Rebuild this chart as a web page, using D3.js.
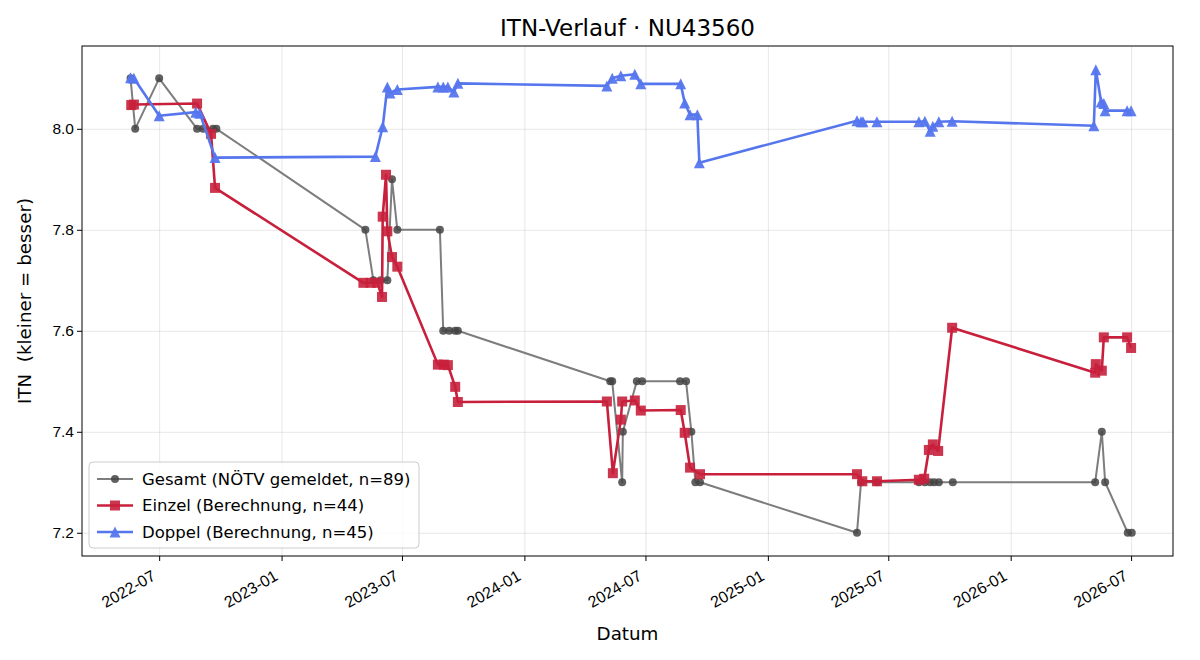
<!doctype html>
<meta charset="utf-8">
<style>
body { margin: 0; background: #fff; }
svg { font-family: "DejaVu Sans", sans-serif; }
.grid line { stroke: #b0b0b0; stroke-opacity: 0.3; }
.grid .domain { display: none; }
.axis .domain { display: none; }
.axis line { stroke: #000; }
</style>
<html lang="de">
<head></head>
<body>
<script src="https://d3js.org/d3.v7.min.js"></script>
<script>
// Gesamt (NÖTV gemeldet)
var gesamtDates = ["2022-05-19","2022-05-26","2022-07-01","2022-08-27","2022-09-05","2022-09-20","2022-09-25",
  "2023-05-07","2023-05-19","2023-05-30","2023-06-09","2023-06-16","2023-06-24",
  "2023-08-27","2023-09-01","2023-09-10","2023-09-19","2023-09-23",
  "2024-05-09","2024-05-12","2024-05-27","2024-05-28","2024-06-18","2024-06-26",
  "2024-08-22","2024-08-31","2024-09-08","2024-09-14","2024-09-21",
  "2025-05-15","2025-05-21","2025-06-14",
  "2025-08-16","2025-08-25","2025-09-02","2025-09-08","2025-09-15","2025-10-06",
  "2026-05-08","2026-05-18","2026-05-23","2026-06-26","2026-07-02"];
var gesamtValues = [8.1,8.0,8.1,8.0,8.0,8.0,8.0,
  7.8,7.7,7.7,7.7,7.9,7.8,
  7.8,7.6,7.6,7.6,7.6,
  7.5,7.5,7.3,7.4,7.5,7.5,
  7.5,7.5,7.4,7.3,7.3,
  7.2,7.3,7.3,
  7.3,7.3,7.3,7.3,7.3,7.3,
  7.3,7.4,7.3,7.2,7.2];

// Einzel (Berechnung)
var einzelDates = ["2022-05-20","2022-05-24","2022-08-27","2022-09-17","2022-09-23",
  "2023-05-04","2023-05-15","2023-05-25","2023-06-01","2023-06-02","2023-06-07","2023-06-09","2023-06-16","2023-06-24",
  "2023-08-24","2023-09-02","2023-09-08","2023-09-19","2023-09-23",
  "2024-05-04","2024-05-13","2024-05-25","2024-05-27","2024-06-15","2024-06-24",
  "2024-08-23","2024-08-29","2024-09-06","2024-09-21",
  "2025-05-15","2025-05-23","2025-06-14",
  "2025-08-16","2025-08-24","2025-08-31","2025-09-06","2025-09-14","2025-10-05",
  "2026-05-08","2026-05-09","2026-05-18","2026-05-21","2026-06-25","2026-07-01"];
var einzelValues = [8.047,8.048,8.05,7.99,7.883,
  7.695,7.695,7.695,7.667,7.826,7.909,7.797,7.746,7.727,
  7.533,7.533,7.532,7.489,7.459,
  7.46,7.318,7.424,7.46,7.462,7.442,
  7.443,7.398,7.329,7.316,
  7.316,7.302,7.302,
  7.305,7.307,7.364,7.375,7.362,7.606,
  7.517,7.534,7.521,7.587,7.587,7.566];

// Doppel (Berechnung)
var doppelDates = ["2022-05-19","2022-05-24","2022-07-01","2022-08-25","2022-08-31","2022-09-23",
  "2023-05-22","2023-06-02","2023-06-09","2023-06-13","2023-06-24",
  "2023-08-24","2023-09-01","2023-09-08","2023-09-17","2023-09-23",
  "2024-05-04","2024-05-12","2024-05-25","2024-06-15","2024-06-24",
  "2024-08-23","2024-08-29","2024-09-06","2024-09-17","2024-09-20",
  "2025-05-15","2025-05-21","2025-05-24","2025-06-14",
  "2025-08-16","2025-08-25","2025-09-02","2025-09-06","2025-09-15","2025-10-05",
  "2026-05-06","2026-05-09","2026-05-17","2026-05-21","2026-05-23","2026-06-25","2026-07-01"];
var doppelValues = [8.101,8.1,8.026,8.033,8.031,7.943,
  7.945,8.004,8.083,8.071,8.078,
  8.083,8.083,8.083,8.073,8.09,
  8.085,8.1,8.105,8.108,8.089,
  8.089,8.051,8.028,8.028,7.933,
  8.016,8.014,8.014,8.014,
  8.014,8.015,7.995,8.005,8.014,8.015,
  8.006,8.117,8.053,8.05,8.036,8.036,8.036];

var yTicks = [7.2, 7.4, 7.6, 7.8, 8.0];
var xDomain = ["2022-03-07", "2026-09-02"];
var yDomain = [7.154, 8.164];

var parse = d3.timeParse("%Y-%m-%d");
function zip(dates, values) {
  return dates.map(function(d, i) { return {date: parse(d), value: values[i]}; });
}

var series = [
  {name: "Gesamt (NÖTV gemeldet, n=89)", data: zip(gesamtDates, gesamtValues),
   line: "#7d7d7d", lw: 2, mark: "#444", shape: "circle", size: 4, fillOp: 0.85},
  {name: "Einzel (Berechnung, n=44)", data: zip(einzelDates, einzelValues),
   line: "#c8203c", lw: 2.6, mark: "#c8203c", shape: "square", size: 10, fillOp: 0.9},
  {name: "Doppel (Berechnung, n=45)", data: zip(doppelDates, doppelValues),
   line: "#5676ee", lw: 2.6, mark: "#5676ee", shape: "triangle", size: 11, fillOp: 0.95}
];

var margin = {top: 46, right: 27, bottom: 104, left: 82},
    width = 1200 - margin.left - margin.right,
    height = 660 - margin.top - margin.bottom;

var svg = d3.select("body").append("svg")
    .attr("width", 1200)
    .attr("height", 660);

var g = svg.append("g")
    .attr("transform", "translate(" + margin.left + "," + margin.top + ")");

var x = d3.scaleTime().domain(xDomain.map(parse)).range([0, width]);
var y = d3.scaleLinear().domain(yDomain).range([height, 0]);
var xTicks = x.ticks(d3.timeMonth.every(6));

// grid
g.append("g").attr("class", "grid")
    .attr("transform", "translate(0," + height + ")")
    .call(d3.axisBottom(x).tickValues(xTicks).tickSize(-height).tickFormat(""));
g.append("g").attr("class", "grid")
    .call(d3.axisLeft(y).tickValues(yTicks).tickSize(-width).tickFormat(""));

var line = d3.line()
    .x(function(d) { return x(d.date); })
    .y(function(d) { return y(d.value); });

function drawMarker(sel, s) {
  if (s.shape === "circle") {
    sel.append("circle").attr("r", s.size);
  } else if (s.shape === "square") {
    sel.append("rect").attr("x", -s.size / 2).attr("y", -s.size / 2)
      .attr("width", s.size).attr("height", s.size);
  } else {
    var h = s.size * 0.5;
    sel.append("path").attr("d", "M0," + (-h) + "L" + h + "," + h + "L" + (-h) + "," + h + "Z");
  }
}

series.forEach(function(s) {
  g.append("path")
      .datum(s.data)
      .attr("fill", "none")
      .attr("stroke", s.line)
      .attr("stroke-width", s.lw)
      .attr("stroke-linejoin", "round")
      .attr("d", line);

  g.append("g").selectAll("g")
      .data(s.data)
    .enter().append("g")
      .attr("transform", function(d) { return "translate(" + x(d.date) + "," + y(d.value) + ")"; })
      .attr("fill", s.mark)
      .attr("fill-opacity", s.fillOp)
      .each(function() { drawMarker(d3.select(this), s); });
});

// axes
var xAxis = g.append("g").attr("class", "axis")
    .attr("transform", "translate(0," + height + ")")
    .call(d3.axisBottom(x).tickValues(xTicks).tickSize(5).tickSizeOuter(0).tickFormat(d3.timeFormat("%Y-%m")));
xAxis.selectAll("text")
    .attr("font-size", 16)
    .attr("fill", "#000")
    .attr("text-anchor", "end")
    .attr("x", 0).attr("y", 0).attr("dx", 0).attr("dy", 0)
    .attr("transform", "translate(-3,23) rotate(-30)");

var yAxis = g.append("g").attr("class", "axis")
    .call(d3.axisLeft(y).tickValues(yTicks).tickSize(5).tickSizeOuter(0).tickFormat(d3.format(".1f")));
yAxis.selectAll("text")
    .attr("font-size", 15.5)
    .attr("fill", "#000");

// frame
g.append("rect")
    .attr("width", width).attr("height", height)
    .attr("fill", "none").attr("stroke", "#000").attr("stroke-width", 1);

// labels
svg.append("text")
    .attr("x", margin.left + width / 2).attr("y", 36)
    .attr("text-anchor", "middle").attr("font-size", 23)
    .text("ITN-Verlauf · NU43560");

svg.append("text")
    .attr("x", margin.left + width / 2).attr("y", 640)
    .attr("text-anchor", "middle").attr("font-size", 18.3)
    .text("Datum");

svg.append("text")
    .attr("transform", "translate(31," + (margin.top + height / 2) + ") rotate(-90)")
    .attr("text-anchor", "middle").attr("font-size", 18.3)
    .style("white-space", "pre")
    .text("ITN  (kleiner = besser)");

// legend
var leg = g.append("g").attr("transform", "translate(7," + (height - 94) + ")");
leg.append("rect")
    .attr("width", 330).attr("height", 86).attr("rx", 4)
    .attr("fill", "#fff").attr("fill-opacity", 0.8)
    .attr("stroke", "#ccc");

series.forEach(function(s, i) {
  var row = leg.append("g").attr("transform", "translate(0," + (17 + i * 26.5) + ")");
  row.append("line")
      .attr("x1", 8).attr("x2", 44)
      .attr("stroke", s.line).attr("stroke-width", s.lw);
  var m = row.append("g").attr("transform", "translate(26,0)")
      .attr("fill", s.mark).attr("fill-opacity", s.fillOp);
  drawMarker(m, s);
  row.append("text")
      .attr("x", 53).attr("dy", "0.35em")
      .attr("font-size", 16.5)
      .text(s.name);
});
</script>
</body>
</html>
